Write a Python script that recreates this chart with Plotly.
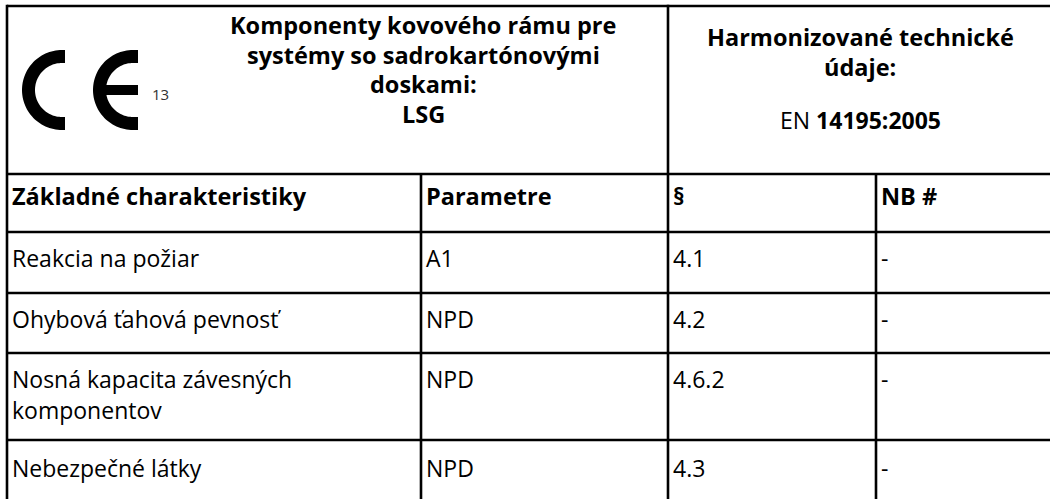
import textwrap
import numpy as np
import plotly.graph_objects as go

# ---------------- data ----------------
title_lines = ["Komponenty kovového rámu pre", "systémy so sadrokartónovými", "doskami:", "LSG"]
standard_lines = ["Harmonizované technické", "údaje:"]
standard_prefix = "EN"
standard_code = "14195:2005"
ce_number = "13"
col_headers = ["Základné charakteristiky", "Parametre", "§", "NB #"]
characteristics = ["Reakcia na požiar", "Ohybová ťahová pevnosť",
                   "Nosná kapacita závesných komponentov", "Nebezpečné látky"]
parameters = ["A1", "NPD", "NPD", "NPD"]
sections = ["4.1", "4.2", "4.6.2", "4.3"]
nb_numbers = ["-", "-", "-", "-"]

# ---------------- layout constants (pixels) ----------------
W, H = 1050, 499
FONT = "Open Sans, sans-serif"
FS = 23
FSB = 23.5
LW = 2.6
col_x = [7, 421, 668, 876]          # left edges of columns
top_y = 6
header_bottom = 174
row_y = [174, 232, 293, 353, 440]   # top edges of table rows (col header + 4 rows)
row_text_off = [26, 26, 26, 28]
text_pad = 3
line_h = 29.5
body_line_h = 30.5

fig = go.Figure()
fig.add_trace(go.Scatter(x=[0, W], y=[0, H], mode="markers",
                         marker=dict(opacity=0), hoverinfo="skip", showlegend=False))

shapes = []
def hline(y, x0=col_x[0], x1=W):
    shapes.append(dict(type="line", xref="x", yref="y", x0=x0, x1=x1, y0=y, y1=y,
                       line=dict(color="black", width=LW)))
def vline(x, y0, y1=H):
    shapes.append(dict(type="line", xref="x", yref="y", x0=x, x1=x, y0=y0, y1=y1,
                       line=dict(color="black", width=LW)))

hline(top_y)
for y in row_y:
    hline(y)
vline(col_x[0], top_y - LW / 2)
vline(col_x[2], top_y - LW / 2)
vline(col_x[1], header_bottom)
vline(col_x[3], header_bottom)

# CE logo (decorative)
def ce_arc(cx, cy, R, r, ext, n=60):
    phi = np.linspace(0, np.pi, n)
    ox = cx - R * np.sin(phi); oy = cy - R * np.cos(phi)
    ix = cx - r * np.sin(phi[::-1]); iy = cy - r * np.cos(phi[::-1])
    pts = [(cx + ext, cy - R)] + list(zip(ox, oy)) + [(cx + ext, cy + R), (cx + ext, cy + r)] \
        + list(zip(ix, iy)) + [(cx + ext, cy - r)]
    return "M " + " L ".join(f"{x:.2f},{y:.2f}" for x, y in pts) + " Z"

cy = 90
shapes.append(dict(type="path", xref="x", yref="y", path=ce_arc(62, cy, 40, 27, 3),
                   fillcolor="black", line=dict(width=0)))
shapes.append(dict(type="path", xref="x", yref="y", path=ce_arc(133, cy, 40, 27, 5),
                   fillcolor="black", line=dict(width=0)))
shapes.append(dict(type="rect", xref="x", yref="y", x0=104, x1=138, y0=cy - 5, y1=cy + 5,
                   fillcolor="black", line=dict(width=0)))

ann = []
def text(x, y, s, bold=False, size=None, xanchor="left", color="black"):
    if size is None:
        size = FSB if bold else FS
    ann.append(dict(x=x, y=y, xref="x", yref="y", text=f"<b>{s}</b>" if bold else s,
                    showarrow=False, xanchor=xanchor, yanchor="middle",
                    font=dict(family=FONT, size=size, color=color)))

text(150, 94, ce_number, size=15, color="#333333")

for i, s in enumerate(title_lines):
    text(423, 25 + i * line_h, s, bold=True, xanchor="center")
rx = (col_x[2] + W) / 2 + 1
for i, s in enumerate(standard_lines):
    text(rx, 37 + i * line_h, s, bold=True, xanchor="center")
text(rx, 120, f"{standard_prefix} <b>{standard_code}</b>", xanchor="center")

for j, h in enumerate(col_headers):
    text(col_x[j] + text_pad, row_y[0] + 22, h, bold=True)

for i in range(len(characteristics)):
    top = row_y[i + 1] + row_text_off[i]
    lines = textwrap.wrap(characteristics[i], 24)
    for k, ln in enumerate(lines):
        text(col_x[0] + text_pad, top + k * body_line_h, ln)
    text(col_x[1] + text_pad, top, parameters[i])
    text(col_x[2] + text_pad, top, sections[i])
    text(col_x[3] + text_pad, top, nb_numbers[i])

fig.update_layout(
    width=W, height=H, margin=dict(l=0, r=0, t=0, b=0),
    paper_bgcolor="white", plot_bgcolor="white",
    xaxis=dict(range=[0, W], visible=False, fixedrange=True),
    yaxis=dict(range=[H, 0], visible=False, fixedrange=True),
    shapes=shapes, annotations=ann, showlegend=False,
)
fig.write_html("out.html", config={"displayModeBar": False},
               post_script="document.body.style.margin='0px';")
